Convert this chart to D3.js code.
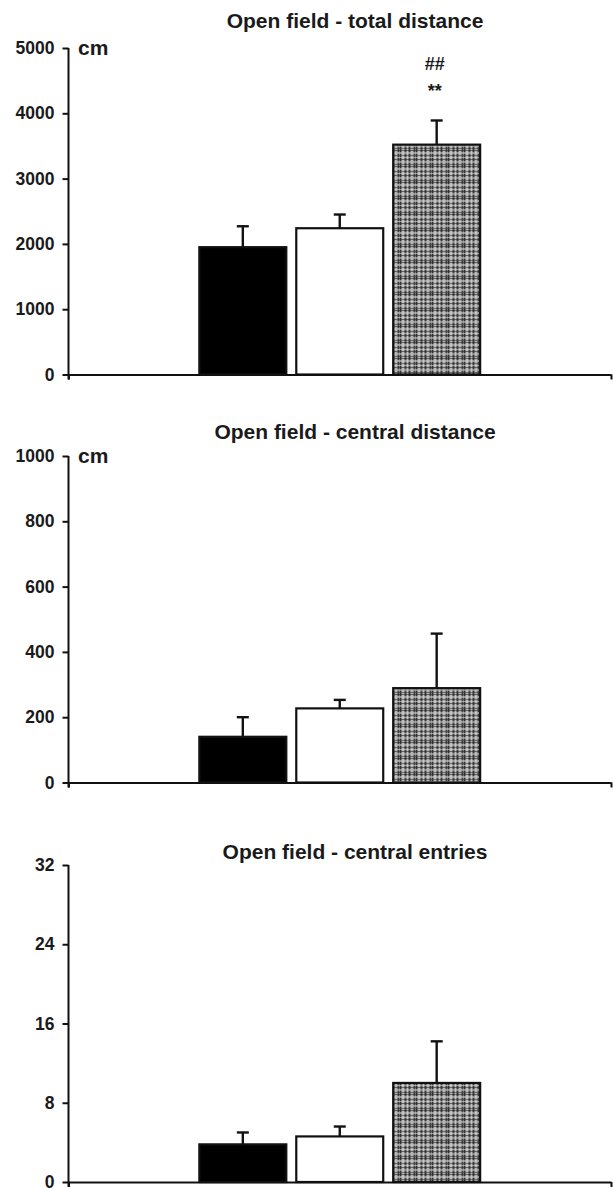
<!DOCTYPE html>
<html>
<head>
  <meta charset="utf-8">
  <title>Open field</title>
<style>
body { margin: 0; background: #fff; }
text { font-family: "Liberation Sans", Arial, sans-serif; font-weight: bold; fill: #1a1a1a; }
.axis path, .axis line { stroke: #111; stroke-width: 2px; }
.axis text { font-size: 17.5px; fill: #1a1a1a; }
.title { font-size: 21px; text-anchor: middle; }
.unit { font-size: 21px; }
.mark { font-size: 18px; text-anchor: middle; }
.bar { stroke: #111; stroke-width: 2.2px; }
.err { stroke: #111; stroke-width: 2.4px; }
</style>
</head>
<body>
<svg id="chart" width="613" height="1189"></svg>
<script src="https://d3js.org/d3.v7.min.js"></script>
<script>

// groups (no legend in the figure) and their bar fills
var groups = ["g1", "g2", "g3"];
var groupFill = ["#000", "#fff", "url(#plaid)"];

// panel 1 - total distance (cm)
var totalDistMean = [1950, 2240, 3520];
var totalDistSem  = [320, 210, 370];
var totalDistTicks = [0, 1000, 2000, 3000, 4000, 5000];

// panel 2 - central distance (cm)
var centralDistMean = [140, 227, 289];
var centralDistSem  = [60, 26, 167];
var centralDistTicks = [0, 200, 400, 600, 800, 1000];

// panel 3 - central entries
var entriesMean = [3.8, 4.6, 10.0];
var entriesSem  = [1.2, 1.0, 4.2];
var entriesTicks = [0, 8, 16, 24, 32];

var titles = ["Open field - total distance", "Open field - central distance", "Open field - central entries"];
var units = ["cm", "cm", ""];
var sigMarks = [["##", "**"], [], []];   // over the third bar

var svg = d3.select("svg#chart");

// plaid fill for the third bar
var tile = 16;
var pat = svg.append("defs").append("pattern")
  .attr("id", "plaid")
  .attr("patternUnits", "userSpaceOnUse")
  .attr("width", tile).attr("height", tile);
pat.append("rect").attr("width", tile).attr("height", tile).attr("fill", "#7d7d7d");
// [offset, colour, width]
var stripes = [[0, "#262626", 1], [2, "#c9c9c9", 2], [5, "#3c3c3c", 1], [7, "#d2d2d2", 1],
               [9, "#2c2c2c", 1], [11, "#bcbcbc", 2], [14, "#383838", 1]];
stripes.forEach(function (s) {
  pat.append("rect").attr("x", s[0]).attr("y", 0).attr("width", s[2]).attr("height", tile)
    .attr("fill", s[1]).attr("opacity", 0.85);
});
stripes.forEach(function (s) {
  pat.append("rect").attr("x", 0).attr("y", (s[0] + 6) % tile).attr("width", tile).attr("height", s[2])
    .attr("fill", s[1]).attr("opacity", 0.6);
});

var axisX = 68.5, axisRight = 611;

// one category, three bars inside it
var x0 = d3.scaleBand().domain(["open field"]).range([axisX, axisRight]).paddingOuter(0.466);
var x1 = d3.scaleBand().domain(groups).range([0, x0.bandwidth()]).paddingInner(0.103);

var panels = [
  { mean: totalDistMean, sem: totalDistSem, ticks: totalDistTicks, yTop: 48, yBottom: 374.5, titleY: 28 },
  { mean: centralDistMean, sem: centralDistSem, ticks: centralDistTicks, yTop: 456, yBottom: 782.5, titleY: 439 },
  { mean: entriesMean, sem: entriesSem, ticks: entriesTicks, yTop: 865, yBottom: 1182, titleY: 859 }
];

panels.forEach(function (p, i) {
  var g = svg.append("g");
  var y = d3.scaleLinear()
    .domain([0, d3.max(p.ticks)])
    .range([p.yBottom, p.yTop]);

  g.append("text").attr("class", "title")
    .attr("x", 355).attr("y", p.titleY)
    .text(titles[i]);

  // bars
  var bx = x0("open field");
  g.selectAll(".bar").data(groups).enter().append("rect")
    .attr("class", "bar")
    .attr("x", function (d) { return bx + x1(d); })
    .attr("width", x1.bandwidth())
    .attr("y", function (d, j) { return y(p.mean[j]); })
    .attr("height", function (d, j) { return y(0) - y(p.mean[j]); })
    .attr("fill", function (d, j) { return groupFill[j]; });

  // error bars (upper only)
  var cap = 6;
  var eg = g.selectAll(".errg").data(groups).enter().append("g").attr("class", "errg");
  eg.append("line").attr("class", "err")
    .attr("x1", function (d) { return bx + x1(d) + x1.bandwidth() / 2; })
    .attr("x2", function (d) { return bx + x1(d) + x1.bandwidth() / 2; })
    .attr("y1", function (d, j) { return y(p.mean[j]); })
    .attr("y2", function (d, j) { return y(p.mean[j] + p.sem[j]); });
  eg.append("line").attr("class", "err")
    .attr("x1", function (d) { return bx + x1(d) + x1.bandwidth() / 2 - cap; })
    .attr("x2", function (d) { return bx + x1(d) + x1.bandwidth() / 2 + cap; })
    .attr("y1", function (d, j) { return y(p.mean[j] + p.sem[j]); })
    .attr("y2", function (d, j) { return y(p.mean[j] + p.sem[j]); });

  // y axis
  var ya = g.append("g").attr("class", "axis")
    .attr("transform", "translate(" + axisX + ",0)")
    .call(d3.axisLeft(y).tickValues(p.ticks).tickSize(6).tickSizeOuter(0).tickPadding(8)
      .tickFormat(d3.format("d")));
  ya.select(".domain").remove();
  ya.append("line").attr("x1", 0).attr("x2", 0)
    .attr("y1", p.yTop).attr("y2", p.yBottom + 5)
    .attr("stroke", "#111").attr("stroke-width", 2);

  // x axis: plain baseline with end ticks
  var xs = d3.scaleLinear().domain([0, 1]).range([axisX, axisRight]);
  g.append("g").attr("class", "axis")
    .attr("transform", "translate(0," + p.yBottom + ")")
    .call(d3.axisBottom(xs).tickValues([0, 1]).tickSize(5).tickSizeOuter(0).tickFormat(""));

  if (units[i]) {
    g.append("text").attr("class", "unit")
      .attr("x", 78).attr("y", p.yTop + 7)
      .text(units[i]);
  }

  var cx = bx + x1(groups[2]) + x1.bandwidth() / 2;
  sigMarks[i].forEach(function (m, k) {
    g.append("text").attr("class", "mark")
      .attr("x", cx - 2).attr("y", 70 + k * 27)
      .text(m);
  });
});

</script>
</body>
</html>
